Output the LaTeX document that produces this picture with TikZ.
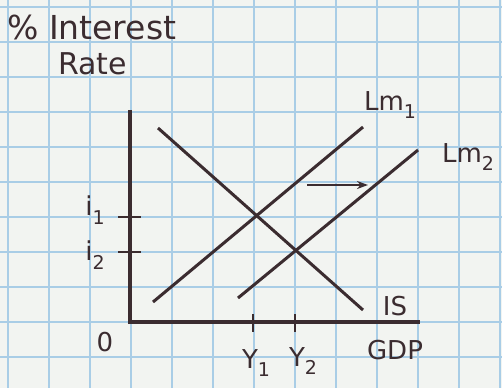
\documentclass[tikz,border=0pt]{standalone}
\usepackage{fontspec}
\setmainfont{DejaVu Sans}
\usepackage{xcolor}
\usepackage{tikz}
\usetikzlibrary{arrows.meta}
\definecolor{paper}{HTML}{F2F4F1}
\definecolor{grd}{HTML}{A9CDE6}
\definecolor{ink}{HTML}{3B2C30}
\newcommand{\sbs}[1]{\raisebox{-0.32em}{\fontsize{19}{20}\selectfont#1}}
\tikzset{
  curve/.style={ink,line width=3pt},
  axis/.style={ink,line width=3.2pt},
  tck/.style={ink,line width=2.6pt},
  lbl/.style={inner sep=0pt,text=ink,font=\fontsize{26}{30}\selectfont}
}

\begin{document}
\begin{tikzpicture}[x=1pt,y=-1pt]
\fill[paper] (0,0) rectangle (502,388);
\useasboundingbox (0,0) rectangle (502,388);
% graph paper
\foreach \gx in {8,49,...,500}
  \draw[grd,line width=1.6pt] (\gx,0) -- (\gx,388);
\foreach \gy in {7,42,...,385}
  \draw[grd,line width=1.6pt] (0,\gy) -- (502,\gy);
% axes
\coordinate (org) at (130,322);
\coordinate (ytop) at (130,110);
\coordinate (xend) at (420,322);
\draw[axis] (ytop) -- (org) -- (xend);
\foreach \nm/\ty in {ione/217,itwo/252}{%
  \coordinate (\nm a) at (118,\ty);
  \coordinate (\nm b) at (141,\ty);
  \draw[tck] (\nm a) -- (\nm b);
}
\foreach \nm/\tx in {yone/253,ytwo/295}{%
  \coordinate (\nm a) at (\tx,314);
  \coordinate (\nm b) at (\tx,332);
  \draw[tck] (\nm a) -- (\nm b);
}
% IS and LM curves
\coordinate (isa) at (158,128);
\coordinate (isb) at (363,310);
\coordinate (lma) at (153,302);
\coordinate (lmb) at (363,127);
\coordinate (lmc) at (238,298);
\coordinate (lmd) at (418,150);
\draw[curve] (isa) -- (isb);
\draw[curve] (lma) -- (lmb);
\draw[curve] (lmc) -- (lmd);
\coordinate (sfta) at (307,185);
\coordinate (sftb) at (368,185);
\draw[curve,line width=2.4pt,-{Stealth[length=11pt,width=8pt]}] (sfta) -- (sftb);
% labels
\node[lbl,anchor=west,font=\fontsize{33}{38}\selectfont] (ttl) at (7,27) {\% Interest};
\node[lbl,anchor=west,font=\fontsize{30}{34}\selectfont] (rate) at (58,64) {Rate};
\node[lbl] (lmone) at (390,105) {Lm\sbs{1}};
\node[lbl] (lmtwo) at (468,157) {Lm\sbs{2}};
\node[lbl] (islbl) at (395,306) {IS};
\node[lbl] (gdp) at (395,350) {GDP};
\node[lbl] (zero) at (105,342) {0};
\node[lbl] (ione) at (95,210) {i\sbs{1}};
\node[lbl] (itwo) at (95,255) {i\sbs{2}};
\node[lbl] (yone) at (256,363) {Y\sbs{1}};
\node[lbl] (ytwo) at (303,361) {Y\sbs{2}};
\end{tikzpicture}
\end{document}
